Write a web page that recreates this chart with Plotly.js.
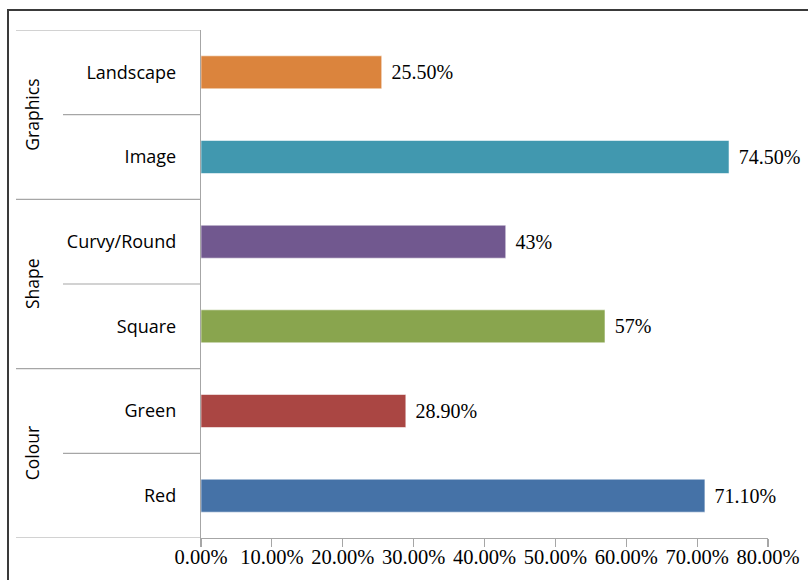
<!DOCTYPE html>
<html>
<head>
<meta charset="utf-8">
<script src="https://cdn.plot.ly/plotly-3.0.1.min.js"></script>
<style>html,body{margin:0;padding:0;background:#fff;}#chart{width:808px;height:580px;}</style>
</head>
<body>
<div id="chart"></div>
<script>
// Data (bottom to top)
const categories = ['Red', 'Green', 'Square', 'Curvy/Round', 'Image', 'Landscape'];
const groups = ['Colour', 'Shape', 'Graphics'];
const values = [71.1, 28.9, 57, 43, 74.5, 25.5];
const valueLabels = ['71.10%', '28.90%', '57%', '43%', '74.50%', '25.50%'];
const xTickVals = [0, 10, 20, 30, 40, 50, 60, 70, 80];
const xTickText = ['0.00%', '10.00%', '20.00%', '30.00%', '40.00%', '50.00%', '60.00%', '70.00%', '80.00%'];

const barColors = ['#4572A7', '#AA4643', '#89A54E', '#71588F', '#4198AF', '#DB843D'];

const L = 201, R = 40, T = 30, B = 42, W = 808, H = 580;
const pw = W - L - R, ph = H - T - B;
const px = x => (x - L) / pw;
const py = y => (H - B - y) / ph;

const trace = {
  type: 'bar',
  orientation: 'h',
  y: categories,
  x: values,
  width: 0.39,
  marker: { color: barColors, line: { color: 'rgba(255,255,255,0.55)', width: 1 } },
  text: valueLabels.map(t => '\u00a0\u200a' + t),
  textposition: 'outside',
  constraintext: 'none',
  cliponaxis: false,
  textfont: { family: 'Liberation Serif, Times New Roman, serif', size: 20, color: '#000' },
  hoverinfo: 'skip'
};

const lineColor = '#a6a6a6';
const shapes = [];
// outer border
shapes.push({ type: 'rect', xref: 'paper', yref: 'paper', x0: px(8), x1: px(830), y0: py(10), y1: py(600),
  line: { color: '#3a3a3a', width: 2 }, fillcolor: 'rgba(0,0,0,0)', layer: 'below' });
// group separators
[5.5, 3.5, 1.5, -0.5].forEach(v => shapes.push({ type: 'line', xref: 'paper', yref: 'y', x0: px(16), x1: 0, y0: v, y1: v,
  line: { color: lineColor, width: 1.2 } }));
// inner separators
[4.5, 2.5, 0.5].forEach(v => shapes.push({ type: 'line', xref: 'paper', yref: 'y', x0: px(63), x1: 0, y0: v, y1: v,
  line: { color: lineColor, width: 1.2 } }));

const groupCenters = [0.5, 2.5, 4.5];
const annotations = groups.map((g, i) => ({
  text: g, xref: 'paper', yref: 'y', x: px(32), y: groupCenters[i], textangle: -90,
  showarrow: false, xanchor: 'center', yanchor: 'middle',
  font: { family: 'Open Sans, Liberation Sans, sans-serif', size: 17.5, color: '#000' }
}));

const layout = {
  width: W, height: H,
  margin: { l: L, r: R, t: T, b: B, pad: 0 },
  paper_bgcolor: '#fff', plot_bgcolor: '#fff',
  showlegend: false,
  xaxis: {
    range: [0, 80], tickvals: xTickVals, ticktext: xTickText,
    showgrid: false, zeroline: false, showline: true, linecolor: lineColor, linewidth: 1.2,
    ticks: 'outside', ticklen: 8, tickcolor: lineColor, tickwidth: 1.2, ticklabelstandoff: -8,
    tickfont: { family: 'Liberation Serif, Times New Roman, serif', size: 20.5, color: '#000' },
    fixedrange: true
  },
  yaxis: {
    type: 'category', range: [-0.5, 5.5],
    showgrid: false, zeroline: false, showline: true, linecolor: lineColor, linewidth: 1.2,
    ticks: '', ticklabelstandoff: 20,
    tickfont: { family: 'Open Sans, Liberation Sans, sans-serif', size: 18, color: '#000' },
    fixedrange: true
  },
  shapes: shapes,
  annotations: annotations
};

Plotly.newPlot('chart', [trace], layout, { staticPlot: true, displayModeBar: false });
</script>
</body>
</html>
